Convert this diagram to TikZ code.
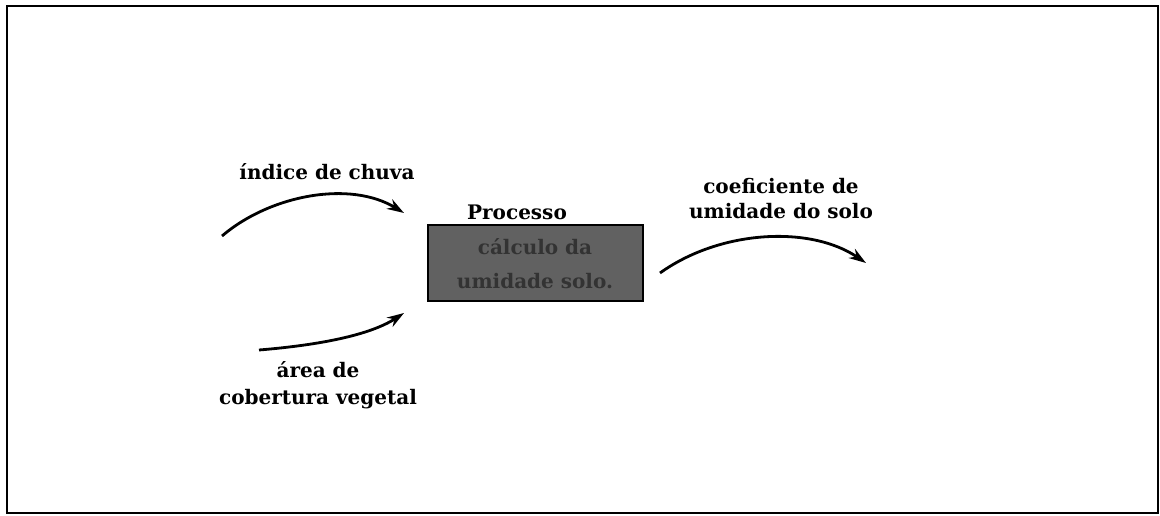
\documentclass[tikz,border=0pt]{standalone}
\usepackage{fontspec}
\setmainfont{DejaVu Serif}
\usetikzlibrary{arrows.meta}
\begin{document}
\begin{tikzpicture}[x=1pt,y=-1pt,
  lbl/.style={font=\bfseries\fontsize{20}{25}\selectfont, align=center, inner sep=0pt},
  flow/.style={line width=2.8pt, -{Stealth[length=17pt,width=11pt]}},
  procbox/.style={draw=black, line width=1.5pt, fill=black!62, minimum width=215pt, minimum height=76pt, inner sep=0pt}
]
\useasboundingbox (0,0) rectangle (1160,516);
\draw[line width=1.5pt] (7,6) rectangle (1158,513);
\node[procbox] (proc) at (535.5,263) {};
\node[lbl, text=black!80, font=\bfseries\fontsize{20}{34}\selectfont] (proctext) at (535,264) {cálculo da\\umidade solo.};
\node[lbl] (proclabel) at (517,212) {Processo};
\node[lbl] (l1) at (327,172) {índice de chuva};
\node[lbl, font=\bfseries\fontsize{20}{27}\selectfont] (l2) at (318,385) {área de\\cobertura vegetal};
\node[lbl] (l3) at (781,199) {coeficiente de\\umidade do solo};
\coordinate (a1s) at (222,236);
\coordinate (a1e) at (404,213);
\coordinate (a2s) at (259,350);
\coordinate (a2e) at (404,313);
\coordinate (a3s) at (660,273);
\coordinate (a3e) at (866,263);
\draw[flow] (a1s) .. controls (270,195) and (350,180) .. (a1e);
\draw[flow] (a2s) .. controls (320,345) and (370,335) .. (a2e);
\draw[flow] (a3s) .. controls (720,230) and (810,225) .. (a3e);
\end{tikzpicture}
\end{document}
